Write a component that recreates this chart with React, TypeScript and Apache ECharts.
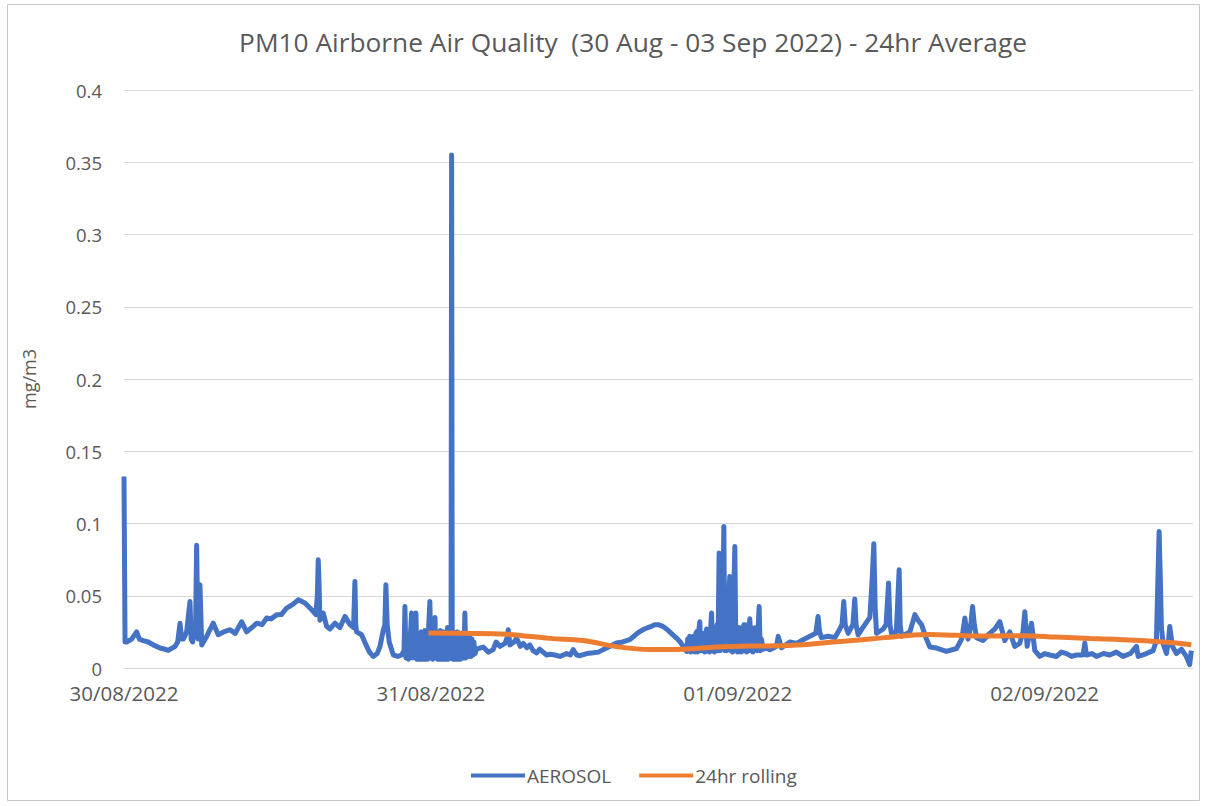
import React, { useEffect, useRef } from "react";
import * as echarts from "echarts";

const titleText = "PM10 Airborne Air Quality  (30 Aug - 03 Sep 2022) - 24hr Average";
const yAxisName = "mg/m3";
const dayLabels = ["30/08/2022", "31/08/2022", "01/09/2022", "02/09/2022"];
const seriesNames = ["AEROSOL", "24hr rolling"];

// [hours since 30/08/2022 00:00, mg/m3]
const aerosolStart: [number, number][] = [
  [0, 0.1325], [0.08, 0.018], [0.21, 0.018], [0.6, 0.02], [0.99, 0.025], [1.2, 0.02], [1.51, 0.019],
  [1.9, 0.018], [2.29, 0.016], [2.81, 0.0138], [3.2, 0.013], [3.46, 0.0122], [3.99, 0.015], [4.2, 0.018],
  [4.38, 0.031], [4.5, 0.02], [4.64, 0.02], [4.9, 0.025], [5.16, 0.046], [5.25, 0.02], [5.37, 0.018],
  [5.6, 0.03], [5.68, 0.085], [5.75, 0.04], [5.81, 0.02], [5.94, 0.0576], [6.08, 0.016], [6.47, 0.022],
  [6.98, 0.031], [7.37, 0.023], [7.8, 0.025], [8.29, 0.0265], [8.7, 0.024], [9.2, 0.032], [9.59, 0.025],
  [10.0, 0.028], [10.38, 0.031], [10.8, 0.03], [11.16, 0.0346], [11.5, 0.034], [11.94, 0.0369],
  [12.3, 0.037], [12.72, 0.0415], [13.2, 0.044], [13.63, 0.0472], [14.15, 0.045], [14.68, 0.0403],
  [15.01, 0.037], [15.12, 0.05], [15.19, 0.0749], [15.25, 0.06], [15.32, 0.033], [15.58, 0.038],
  [15.85, 0.0288], [16.1, 0.027], [16.5, 0.031], [16.89, 0.028], [17.28, 0.0357], [17.67, 0.03],
  [17.95, 0.028], [18.06, 0.0599], [18.12, 0.03], [18.19, 0.025], [18.58, 0.023], [18.98, 0.0149],
  [19.2, 0.011], [19.49, 0.008], [19.8, 0.01], [20.02, 0.0149], [20.27, 0.026], [20.4, 0.03],
  [20.48, 0.0576], [20.58, 0.03], [20.74, 0.018], [21.06, 0.009], [21.4, 0.008], [21.71, 0.009],
];

const aerosolDense1: [number, number][] = [
  [21.9, 0.012], [21.97, 0.0426], [22.05, 0.007], [22.15, 0.015], [22.25, 0.006], [22.38, 0.02],
  [22.49, 0.038], [22.56, 0.007], [22.64, 0.02], [22.72, 0.008], [22.83, 0.038], [22.9, 0.006],
  [22.97, 0.022], [23.04, 0.007], [23.11, 0.024], [23.18, 0.006], [23.25, 0.025], [23.32, 0.007],
  [23.39, 0.023], [23.46, 0.006], [23.53, 0.026], [23.6, 0.007], [23.67, 0.024], [23.74, 0.006],
  [23.81, 0.025], [23.92, 0.046], [24.0, 0.007], [24.07, 0.024], [24.14, 0.006], [24.21, 0.025],
  [24.32, 0.035], [24.39, 0.007], [24.46, 0.025], [24.53, 0.006], [24.6, 0.024], [24.67, 0.007],
  [24.74, 0.026], [24.81, 0.006], [24.88, 0.024], [24.95, 0.007], [25.02, 0.025], [25.09, 0.006],
  [25.16, 0.024], [25.23, 0.007], [25.3, 0.028], [25.37, 0.006], [25.44, 0.025], [25.51, 0.007],
  [25.58, 0.028], [25.62, 0.355], [25.67, 0.02], [25.74, 0.006], [25.81, 0.025], [25.88, 0.007],
  [25.95, 0.024], [26.02, 0.006], [26.09, 0.025], [26.16, 0.007], [26.23, 0.023], [26.3, 0.006],
  [26.37, 0.024], [26.44, 0.008], [26.51, 0.023], [26.58, 0.007], [26.66, 0.038], [26.73, 0.007],
  [26.8, 0.024], [26.87, 0.008], [26.94, 0.022], [27.01, 0.008], [27.08, 0.021], [27.15, 0.008],
  [27.22, 0.02], [27.29, 0.009], [27.36, 0.018], [27.45, 0.01], [27.57, 0.013],
];

const aerosolMid: [number, number][] = [
  [28.09, 0.0145], [28.5, 0.011], [28.87, 0.0127], [29.1, 0.018], [29.4, 0.015], [29.8, 0.017],
  [30.0, 0.022], [30.05, 0.0265], [30.18, 0.016], [30.5, 0.018], [30.7, 0.0205], [31.0, 0.015],
  [31.22, 0.017], [31.5, 0.014], [31.74, 0.016], [32.0, 0.012], [32.27, 0.0104], [32.5, 0.013],
  [32.78, 0.011], [33.05, 0.009], [33.31, 0.0095], [33.7, 0.009], [34.09, 0.008], [34.61, 0.01],
  [34.9, 0.009], [35.13, 0.0127], [35.4, 0.009], [35.65, 0.0085], [36.2, 0.01], [36.69, 0.0105],
  [37.1, 0.011], [37.47, 0.0127], [38.0, 0.015], [38.52, 0.0173], [39.0, 0.018], [39.56, 0.0196],
  [40.0, 0.023], [40.34, 0.0253], [40.7, 0.027], [41.13, 0.0284], [41.5, 0.03], [41.78, 0.03],
  [42.1, 0.029], [42.43, 0.027], [42.8, 0.024], [43.21, 0.0207], [43.5, 0.018], [43.73, 0.015],
  [44.0, 0.0115],
];

const aerosolDense2: [number, number][] = [
  [44.08, 0.02], [44.16, 0.012], [44.24, 0.022], [44.32, 0.011], [44.4, 0.021], [44.48, 0.012],
  [44.56, 0.022], [44.64, 0.011], [44.72, 0.024], [44.78, 0.025], [44.85, 0.011], [44.95, 0.026],
  [45.03, 0.032], [45.1, 0.012], [45.18, 0.022], [45.26, 0.012], [45.34, 0.024], [45.42, 0.011],
  [45.5, 0.023], [45.56, 0.027], [45.63, 0.012], [45.71, 0.025], [45.79, 0.011], [45.87, 0.026],
  [45.95, 0.038], [46.03, 0.012], [46.1, 0.026], [46.17, 0.011], [46.24, 0.028], [46.31, 0.012],
  [46.38, 0.03], [46.45, 0.012], [46.54, 0.0795], [46.62, 0.012], [46.7, 0.035], [46.78, 0.03],
  [46.86, 0.06], [46.91, 0.098], [46.98, 0.012], [47.05, 0.04], [47.12, 0.012], [47.2, 0.045],
  [47.3, 0.05], [47.37, 0.0634], [47.45, 0.012], [47.52, 0.03], [47.59, 0.011], [47.68, 0.05],
  [47.77, 0.084], [47.85, 0.012], [47.92, 0.028], [47.99, 0.011], [48.06, 0.028], [48.13, 0.012],
  [48.2, 0.027], [48.27, 0.011], [48.34, 0.028], [48.41, 0.012], [48.48, 0.03], [48.55, 0.012],
  [48.62, 0.03], [48.69, 0.011], [48.76, 0.029], [48.83, 0.012], [48.94, 0.034], [49.02, 0.012],
  [49.1, 0.028], [49.18, 0.011], [49.26, 0.026], [49.33, 0.014], [49.42, 0.028], [49.5, 0.012],
  [49.58, 0.025], [49.67, 0.0426], [49.75, 0.012], [49.85, 0.02], [49.98, 0.013], [50.2, 0.014],
];

const aerosolEnd: [number, number][] = [
  [50.51, 0.0127], [51.03, 0.015], [51.16, 0.0219], [51.42, 0.014], [52.07, 0.018], [52.6, 0.017],
  [53.11, 0.0196], [53.64, 0.022], [54.1, 0.024], [54.28, 0.0357], [54.4, 0.025], [54.55, 0.021],
  [55.07, 0.022], [55.59, 0.021], [55.98, 0.027], [56.15, 0.03], [56.29, 0.046], [56.4, 0.03],
  [56.63, 0.024], [57.0, 0.03], [57.15, 0.0477], [57.25, 0.03], [57.41, 0.023], [57.94, 0.03],
  [58.33, 0.035], [58.5, 0.06], [58.64, 0.086], [58.75, 0.04], [58.85, 0.024], [59.37, 0.027],
  [59.6, 0.03], [59.79, 0.0588], [59.9, 0.03], [60.02, 0.024], [60.4, 0.025], [60.62, 0.068],
  [60.7, 0.03], [60.81, 0.022], [61.46, 0.025], [61.85, 0.0369], [62.1, 0.033], [62.37, 0.03],
  [62.76, 0.02], [63.02, 0.0145], [63.54, 0.0138], [64.32, 0.0115], [65.11, 0.0135], [65.5, 0.02],
  [65.6, 0.025], [65.76, 0.0346], [65.9, 0.025], [66.01, 0.02], [66.2, 0.028], [66.36, 0.0426],
  [66.5, 0.03], [66.67, 0.021], [67.18, 0.019], [67.71, 0.024], [68.1, 0.027], [68.49, 0.032],
  [68.88, 0.019], [69.27, 0.025], [69.66, 0.0149], [70.05, 0.017], [70.3, 0.025], [70.45, 0.039],
  [70.55, 0.025], [70.63, 0.015], [70.97, 0.031], [71.23, 0.012], [71.62, 0.008], [72.0, 0.01],
  [72.4, 0.009], [72.93, 0.008], [73.3, 0.011], [73.71, 0.01], [74.1, 0.008], [74.49, 0.009],
  [75.0, 0.009], [75.14, 0.0173], [75.27, 0.009], [75.7, 0.01], [76.05, 0.008], [76.6, 0.01],
  [77.09, 0.009], [77.6, 0.011], [78.13, 0.008], [78.7, 0.01], [79.18, 0.015], [79.31, 0.008],
  [79.96, 0.01], [80.48, 0.012], [80.74, 0.019], [80.85, 0.06], [80.95, 0.0945], [81.05, 0.06],
  [81.13, 0.028], [81.26, 0.017], [81.52, 0.01], [81.7, 0.02], [81.78, 0.0288], [81.99, 0.015],
  [82.3, 0.01], [82.69, 0.013], [83.08, 0.008], [83.34, 0.0023], [83.47, 0.012],
];

const rolling: [number, number][] = [
  [23.8, 0.0242], [26.5, 0.024], [29.92, 0.0233], [33.31, 0.0205], [35.91, 0.019], [38.52, 0.0148],
  [41.13, 0.0128], [43.73, 0.013], [46.34, 0.0145], [48.94, 0.0152], [50.51, 0.0153], [53.11, 0.0161],
  [55.72, 0.0182], [58.33, 0.02], [60.93, 0.0222], [63.02, 0.0232], [65.11, 0.0226], [67.71, 0.0221],
  [70.31, 0.0224], [72.92, 0.0214], [75.53, 0.0204], [78.13, 0.0196], [80.74, 0.0184], [82.3, 0.0173],
  [83.47, 0.0161],
];

const aerosol = [...aerosolStart, ...aerosolDense1, ...aerosolMid, ...aerosolDense2, ...aerosolEnd];

const FONT = "Open Sans";
const TXT = "#595959";

export default function App() {
  const ref = useRef<HTMLDivElement>(null);
  useEffect(() => {
    const chart = echarts.init(ref.current!, null, { renderer: "svg" });
    chart.setOption({
      animation: false,
      backgroundColor: "#ffffff",
      title: {
        text: titleText,
        left: 628,
        top: 24,
        textAlign: "center",
        textStyle: { fontFamily: FONT, fontSize: 26.3, fontWeight: "normal", color: TXT },
      },
      graphic: [
        {
          type: "rect",
          shape: { x: 7.5, y: 4.5, width: 1192, height: 796 },
          style: { fill: "none", stroke: "#c8c8c8", lineWidth: 1 },
          silent: true,
        },
      ],
      legend: {
        top: 761,
        left: 466,
        itemWidth: 54,
        itemHeight: 4,
        itemGap: 28,
        icon: "rect",
        textStyle: { fontFamily: FONT, fontSize: 19, color: TXT, padding: [0, 0, 0, -3] },
        data: seriesNames,
      },
      grid: { left: 124, right: 12, top: 90, bottom: 138 },
      xAxis: {
        type: "value",
        min: 0,
        max: 83.6,
        interval: 24,
        axisLine: { show: true, lineStyle: { color: "#d9d9d9", width: 1 } },
        axisTick: { show: false },
        splitLine: { show: false },
        axisLabel: {
          showMaxLabel: false,
          margin: 15,
          lineHeight: 20,
          fontFamily: FONT,
          fontSize: 20.5,
          color: TXT,
          formatter: (v: number) => (v % 24 === 0 ? dayLabels[v / 24] ?? "" : ""),
        },
      },
      yAxis: {
        type: "value",
        min: 0,
        max: 0.4,
        interval: 0.05,
        name: yAxisName,
        nameLocation: "middle",
        nameGap: 86,
        nameTextStyle: { fontFamily: FONT, fontSize: 18, color: TXT },
        axisLine: { show: false },
        axisTick: { show: false },
        splitLine: { lineStyle: { color: "#d9d9d9", width: 1 } },
        axisLabel: { margin: 22, lineHeight: 16, fontFamily: FONT, fontSize: 18.5, color: TXT },
      },
      series: [
        {
          name: seriesNames[0],
          type: "line",
          data: aerosol,
          showSymbol: false,
          color: "#4472C4",
          lineStyle: { color: "#4472C4", width: 5, join: "round" },
        },
        {
          name: seriesNames[1],
          type: "line",
          data: rolling,
          showSymbol: false,
          smooth: 0.4,
          color: "#ED7D31",
          lineStyle: { color: "#ED7D31", width: 5 },
        },
      ],
    });
    return () => chart.dispose();
  }, []);
  return (
    <div
      ref={ref}
      style={{ position: "fixed", left: 0, top: 0, width: 1205, height: 806, background: "#fff" }}
    />
  );
}
